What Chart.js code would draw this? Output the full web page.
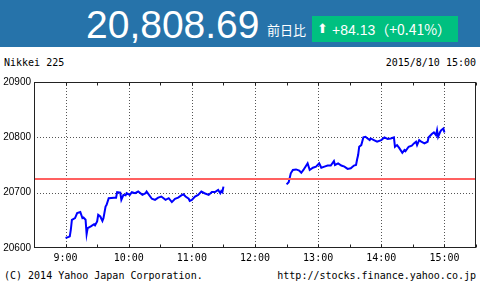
<!DOCTYPE html>
<html>
<head>
<meta charset="utf-8">
<script src="https://cdn.jsdelivr.net/npm/chart.js@4"></script>
<style>
  body { margin: 0; width: 480px; height: 290px; background: #fff; position: relative; overflow: hidden; }
  .abs { position: absolute; white-space: nowrap; }
  #header { position: absolute; left: 0; top: 0; width: 480px; height: 47px; background: #2673aa; }
  #price { left: 86px; top: 5px; font: 39px/39px "Liberation Sans", Arial, sans-serif; color: #fff; }
  #label { left: 267px; top: 22px; font: 13px/16px "Noto Sans CJK JP", sans-serif; color: #fff; }
  #change { left: 312px; top: 16px; width: 146px; height: 26px; background: #00c080; color: #fff; }
  #change span { position: absolute; top: 5px; font: 14px/16px "Liberation Sans", Arial, sans-serif; }
  .mono { font: 10px/12px "DejaVu Sans Mono", monospace; color: #000; }
  #chartBox { position: absolute; left: 0; top: 72px; width: 480px; height: 192px; }
</style>
</head>
<body>
<div id="header"></div>
<div id="price" class="abs">20,808.69</div>
<div id="label" class="abs">前日比</div>
<div id="change" class="abs">
  <span style="left:5px; font-family:'DejaVu Sans'; font-size:13px;">⬆</span>
  <span style="left:20px;">+84.13<span style="position:static; font-family:'Noto Sans CJK JP';">（+0.41%）</span></span>
</div>
<div class="abs mono" style="left:4px; top:57px;">Nikkei 225</div>
<div class="abs mono" style="right:4px; top:57px;">2015/8/10 15:00</div>
<div id="chartBox"><canvas id="chart" width="480" height="192"></canvas></div>
<div class="abs mono" style="left:4px; top:270px;">(C) 2014 Yahoo Japan Corporation.</div>
<div class="abs mono" style="right:4px; top:270px;">http://stocks.finance.yahoo.co.jp</div>

<script>
// minutes after 9:00
const amTimes = [0, 3, 4, 5, 6, 9, 11, 14, 16, 17, 19, 20, 21, 24, 27, 28, 30, 31, 33, 35, 36, 38, 39, 41, 46, 48, 49,
  52, 53, 55, 57, 58, 61, 63, 66, 69, 73, 76, 77, 82, 85, 88, 91, 95, 98, 101, 104, 107, 110, 112, 114, 117, 118,
  120, 123, 126, 129, 132, 136, 139, 142, 145, 147, 148, 149, 150];
const amPrices = [20618, 20620, 20621, 20633, 20651, 20654, 20663, 20665, 20654, 20655, 20651, 20625, 20636, 20639,
  20643, 20641, 20648, 20660, 20657, 20649, 20654, 20675, 20678, 20690, 20691, 20691, 20701, 20700, 20687, 20696,
  20695, 20699, 20696, 20701, 20699, 20702, 20696, 20699, 20702, 20689, 20687, 20691, 20693, 20687, 20690, 20683,
  20689, 20691, 20695, 20697, 20693, 20689, 20685, 20687, 20693, 20696, 20702, 20699, 20696, 20701, 20701, 20705,
  20699, 20703, 20701, 20711];
const pmTimes = [210, 212, 214, 216, 219, 222, 224, 226, 229, 230, 232, 235, 238, 241, 243, 246, 249, 252, 255, 256,
  259, 262, 265, 268, 271, 274, 276, 277, 278, 279, 281, 283, 285, 287, 289, 290, 293, 296, 300, 303, 306, 309,
  312, 313, 315, 317, 320, 322, 323, 326, 329, 331, 333, 334, 336, 338, 341, 344, 345, 348, 350, 352, 353, 354,
  356, 357, 359, 360];
const pmPrices = [20715, 20719, 20735, 20741, 20742, 20740, 20736, 20741, 20750, 20753, 20741, 20745, 20747, 20753,
  20745, 20747, 20749, 20749, 20757, 20750, 20753, 20749, 20747, 20743, 20744, 20749, 20750, 20760, 20768, 20783,
  20786, 20800, 20801, 20798, 20795, 20798, 20795, 20792, 20795, 20800, 20797, 20798, 20800, 20783, 20786, 20781,
  20772, 20777, 20775, 20783, 20785, 20789, 20792, 20786, 20795, 20792, 20789, 20792, 20800, 20806, 20809, 20804,
  20813, 20801, 20810, 20813, 20816, 20808.69];
const prevClose = 20724.56;
const yTicks = [20600, 20700, 20800, 20900];

const toPoints = (ts, vs) => ts.map((t, i) => ({ x: t, y: vs[i] }));
const xMin = -30, xMax = 390;
const isHour = v => v % 60 === 0 && v >= 0 && v <= 360;

// dotted grid behind the lines
const gridPlugin = {
  id: 'dotGrid',
  beforeDatasetsDraw(chart) {
    const { ctx, chartArea: a, scales } = chart;
    ctx.save();
    ctx.strokeStyle = '#555';
    ctx.lineWidth = 1;
    ctx.setLineDash([1, 2]);
    ctx.beginPath();
    [0, 60, 120, 180, 240, 300, 360].forEach(v => {
      const x = Math.round(scales.x.getPixelForValue(v)) + 0.5;
      ctx.moveTo(x, a.top); ctx.lineTo(x, a.bottom);
    });
    yTicks.slice(1, -1).forEach(v => {
      const y = Math.round(scales.y.getPixelForValue(v)) + 0.5;
      ctx.moveTo(a.left, y); ctx.lineTo(a.right, y);
    });
    ctx.stroke();
    ctx.restore();
  }
};

// frame with inward half-hour tick marks
const framePlugin = {
  id: 'frame',
  afterDraw(chart) {
    const { ctx, chartArea: a, scales } = chart;
    const l = Math.round(a.left) + 0.5, r = Math.round(a.right) - 0.5;
    const t = Math.round(a.top) + 0.5, b = Math.round(a.bottom) - 0.5;
    ctx.save();
    ctx.strokeStyle = '#222';
    ctx.lineWidth = 1;
    ctx.strokeRect(l, t, r - l, b - t);
    ctx.beginPath();
    scales.x.ticks.forEach(tk => {
      const x = Math.round(scales.x.getPixelForValue(tk.value)) + 0.5;
      ctx.moveTo(x, t); ctx.lineTo(x, t + 3);
      ctx.moveTo(x, b); ctx.lineTo(x, b - 3);
    });
    ctx.stroke();
    ctx.restore();
  }
};

new Chart(document.getElementById('chart'), {
  type: 'line',
  data: {
    datasets: [
      { data: [{ x: xMin, y: prevClose }, { x: xMax, y: prevClose }], borderColor: '#ff6060', borderWidth: 2, pointRadius: 0 },
      { data: toPoints(amTimes, amPrices), borderColor: '#0000ff', borderWidth: 2, pointRadius: 0, tension: 0 },
      { data: toPoints(pmTimes, pmPrices), borderColor: '#0000ff', borderWidth: 2, pointRadius: 0, tension: 0 }
    ]
  },
  options: {
    responsive: false,
    animation: false,
    devicePixelRatio: 1,
    layout: { padding: { top: 10, right: 3, left: 0, bottom: 0 } },
    plugins: { legend: { display: false }, tooltip: { enabled: false } },
    scales: {
      x: {
        type: 'linear',
        min: xMin,
        max: xMax,
        afterFit: s => { s.height = 16; },
        border: { display: false },
        grid: { display: false, drawTicks: false },
        ticks: {
          stepSize: 30,
          autoSkip: false,
          maxRotation: 0,
          padding: 4,
          color: '#000',
          font: { family: 'DejaVu Sans Mono', size: 10 },
          callback: v => isHour(v) ? (9 + v / 60) + ':00' : ''
        }
      },
      y: {
        min: 20600,
        max: 20900,
        afterBuildTicks: s => { s.ticks = yTicks.map(v => ({ value: v })); },
        afterFit: s => { s.width = 34; },
        border: { display: false },
        grid: { display: false, drawTicks: false },
        ticks: {
          padding: 3,
          color: '#000',
          font: { family: 'Liberation Sans', size: 10 },
          callback: v => String(v)
        }
      }
    }
  },
  plugins: [gridPlugin, framePlugin]
});
</script>
</body>
</html>
